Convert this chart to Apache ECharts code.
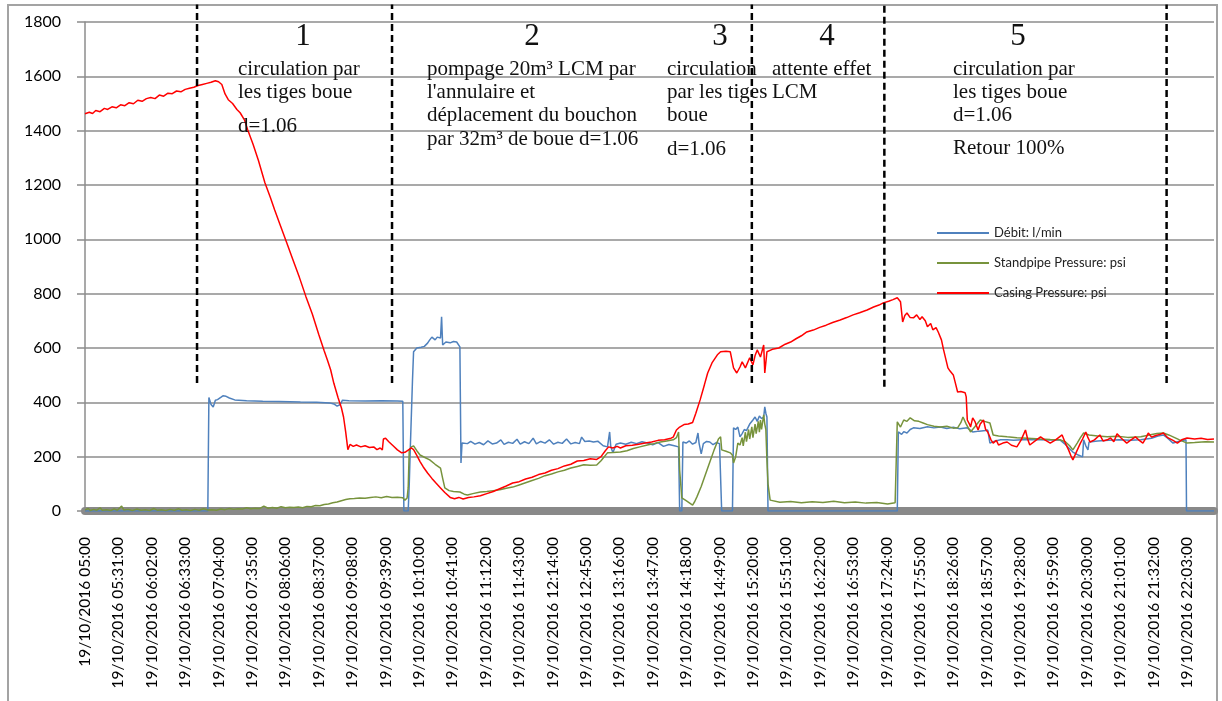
<!DOCTYPE html>
<html>
<head>
<meta charset="utf-8">
<script src="https://cdn.jsdelivr.net/npm/echarts@6.0.0/dist/echarts.min.js"></script>
<style>
  html, body { margin: 0; padding: 0; background: #fff; }
  #chart { width: 1222px; height: 701px; }
</style>
</head>
<body>
<div id="chart"></div>
<script>
// ── Data: time is minutes after 19/10/2016 05:00 ──────────────────────────
const tickLabels = [
  '19/10/2016 05:00', '19/10/2016 05:31:00', '19/10/2016 06:02:00', '19/10/2016 06:33:00',
  '19/10/2016 07:04:00', '19/10/2016 07:35:00', '19/10/2016 08:06:00', '19/10/2016 08:37:00',
  '19/10/2016 09:08:00', '19/10/2016 09:39:00', '19/10/2016 10:10:00', '19/10/2016 10:41:00',
  '19/10/2016 11:12:00', '19/10/2016 11:43:00', '19/10/2016 12:14:00', '19/10/2016 12:45:00',
  '19/10/2016 13:16:00', '19/10/2016 13:47:00', '19/10/2016 14:18:00', '19/10/2016 14:49:00',
  '19/10/2016 15:20:00', '19/10/2016 15:51:00', '19/10/2016 16:22:00', '19/10/2016 16:53:00',
  '19/10/2016 17:24:00', '19/10/2016 17:55:00', '19/10/2016 18:26:00', '19/10/2016 18:57:00',
  '19/10/2016 19:28:00', '19/10/2016 19:59:00', '19/10/2016 20:30:00', '19/10/2016 21:01:00',
  '19/10/2016 21:32:00', '19/10/2016 22:03:00'
]
const TICK_STEP = 31
const TIME_MAX = 1048

const seriesNames = ['Débit: l/min', 'Standpipe Pressure: psi', 'Casing Pressure: psi']

const debitData = [
  [0,0],[114,0],[115,418],[116,412],[117,392],[118,398],[119,383],[120,395],[121,408],[123,410],[126,418],[128,424],
  [131,422],[134,416],[139,409],[150,406],[165,404],[180,403],[200,401],[215,400],[227,398],[231,394],[234,386],
  [235,379],[237,392],[239,408],[245,406],[260,405],[275,406],[290,405],[295,404],[296,0],[300,0],[301,100],
  [302,236],[304,482],[305,586],[308,600],[312,603],[315,606],[318,618],[320,630],[322,640],[323,645],[325,630],
  [327,640],[330,637],[331,715],[332,611],[335,622],[339,619],[342,624],[345,622],[348,604],[349,177],[350,250],
  [351,254],[355,248],[358,256],[362,246],[366,252],[370,244],[374,258],[378,247],[382,250],[386,262],[389,245],
  [393,253],[397,249],[401,264],[404,246],[408,255],[412,248],[416,268],[419,247],[423,256],[427,250],[431,262],
  [435,246],[439,253],[443,249],[447,265],[451,247],[455,252],[459,248],[461,272],[464,256],[468,258],[472,254],
  [476,257],[481,240],[485,236],[487,291],[488,238],[490,214],[493,246],[497,250],[502,246],[507,253],[512,248],
  [517,255],[522,250],[527,244],[532,252],[537,238],[542,245],[547,240],[551,236],[552,0],[554,0],[555,254],
  [558,250],[561,258],[564,246],[567,252],[569,287],[570,250],[572,210],[574,248],[577,256],[580,254],[583,244],
  [586,252],[589,248],[590,250],[591,0],[601,0],[602,306],[604,300],[606,309],[608,273],[610,285],[612,300],
  [614,296],[617,320],[620,335],[622,346],[624,330],[626,350],[628,340],[630,346],[631,383],[632,360],[633,346],
  [634,0],[754,0],[755,291],[758,282],[760,292],[763,287],[766,300],[769,306],[775,304],[782,310],[788,306],
  [794,309],[800,304],[806,308],[812,303],[819,306],[824,291],[830,294],[836,296],[838,298],[840,250],[845,258],
  [850,262],[856,262],[862,260],[870,262],[878,263],[887,262],[895,261],[905,262],[910,245],[917,217],[922,206],
  [926,199],[927,262],[929,240],[931,225],[932,254],[940,258],[950,260],[960,262],[970,260],[980,262],[990,268],
  [996,276],[1001,280],[1005,268],[1010,250],[1015,256],[1022,262],[1022.5,0],[1048,0]
]

const standpipeData = [
  [0,4],[3,9],[5,2],[8,6],[11,3],[14,12],[16,3],[20,5],[24,2],[27,8],[30,3],[34,18],[36,4],[40,6],[44,2],[48,7],
  [52,3],[56,5],[60,2],[64,9],[67,3],[71,5],[75,2],[79,6],[83,3],[87,8],[90,3],[94,5],[98,2],[102,6],[106,3],
  [110,8],[114,4],[118,5],[122,3],[126,7],[130,5],[134,9],[138,6],[142,8],[146,7],[150,12],[154,8],[158,10],
  [162,9],[166,18],[170,10],[174,13],[178,10],[182,16],[186,12],[190,14],[194,13],[198,15],[202,12],[206,17],
  [210,16],[214,20],[218,19],[222,24],[226,26],[230,30],[234,33],[238,38],[242,42],[246,45],[250,46],[255,48],
  [260,47],[265,50],[270,52],[275,49],[280,53],[285,50],[290,51],[295,49],[297,40],[299,48],[300,85],[301,225],
  [303,236],[305,240],[308,222],[311,206],[315,198],[320,188],[325,172],[330,158],[332,120],[334,85],[338,75],
  [342,72],[348,70],[352,62],[355,59],[360,64],[367,70],[373,72],[379,75],[385,78],[391,84],[397,88],[403,96],
  [409,104],[415,112],[421,120],[427,130],[433,136],[439,144],[445,150],[451,158],[457,164],[463,170],[469,168],
  [475,169],[479,185],[482,200],[485,214],[490,215],[497,217],[503,222],[509,230],[515,236],[522,243],[528,248],
  [534,254],[540,258],[546,262],[549,270],[551,291],[552,150],[554,48],[558,38],[561,30],[564,22],[566,35],
  [568,52],[572,90],[576,135],[580,180],[584,225],[588,265],[590,273],[591,225],[595,220],[599,214],[601,205],
  [602,177],[604,200],[606,250],[608,243],[610,270],[611,240],[613,290],[614,255],[616,300],[617,265],[619,310],
  [620,270],[622,320],[623,285],[625,330],[626,290],[627,335],[628,300],[630,354],[631,320],[632,300],[633,188],
  [634,100],[636,40],[645,32],[655,35],[665,30],[675,34],[685,31],[695,36],[705,30],[715,33],[725,29],[735,31],
  [745,26],[752,30],[753,24],[754,328],[757,309],[760,335],[763,330],[766,343],[770,332],[774,330],[778,324],
  [782,318],[788,312],[794,309],[800,312],[806,305],[810,306],[813,325],[815,346],[818,320],[822,291],[826,310],
  [831,335],[835,330],[840,324],[843,280],[848,276],[856,273],[865,270],[875,268],[887,265],[896,263],[905,262],
  [910,255],[914,240],[917,225],[921,250],[924,270],[927,287],[932,280],[940,276],[949,273],[958,275],[968,271],
  [980,273],[988,280],[995,285],[1001,287],[1006,280],[1010,273],[1016,262],[1023,250],[1030,252],[1040,255],
  [1048,254]
]

const casingData = [
  [0,1462],[4,1468],[7,1463],[10,1474],[14,1470],[18,1482],[21,1478],[25,1488],[29,1484],[33,1495],[37,1492],
  [41,1503],[45,1499],[49,1512],[53,1508],[57,1518],[61,1522],[65,1518],[69,1531],[73,1527],[77,1538],[81,1536],
  [85,1546],[89,1543],[93,1552],[97,1556],[101,1560],[105,1566],[109,1570],[113,1574],[117,1578],[121,1584],
  [124,1580],[127,1570],[130,1535],[133,1514],[137,1500],[141,1478],[144,1466],[148,1440],[151,1403],[156,1350],
  [161,1290],[167,1208],[172,1155],[176,1109],[181,1055],[187,990],[193,925],[199,860],[205,790],[211,725],
  [217,650],[222,590],[225,556],[228,520],[231,470],[235,416],[238,380],[240,346],[242,290],[244,226],[246,245],
  [249,238],[252,243],[256,236],[260,240],[264,234],[268,236],[271,226],[274,232],[276,225],[277,265],[279,268],
  [282,255],[286,240],[290,225],[294,214],[297,216],[300,224],[303,232],[305,226],[308,205],[311,182],[314,162],
  [318,140],[322,120],[326,102],[330,85],[334,68],[339,50],[343,45],[347,50],[351,44],[356,50],[361,52],[367,56],
  [373,64],[379,72],[385,82],[391,92],[397,103],[403,108],[409,118],[415,124],[421,134],[427,140],[433,150],
  [439,156],[445,166],[451,172],[457,184],[463,186],[469,192],[475,190],[479,200],[483,222],[486,236],[490,232],
  [494,238],[497,232],[502,240],[508,242],[514,246],[520,250],[526,254],[532,260],[538,262],[544,268],[546,272],
  [549,298],[552,309],[556,318],[560,320],[564,326],[567,360],[571,409],[575,465],[578,508],[582,545],[587,575],
  [590,586],[595,588],[599,586],[602,527],[605,508],[608,530],[610,549],[613,527],[617,564],[620,538],[622,572],
  [624,593],[627,567],[630,611],[631,508],[633,586],[638,595],[644,600],[650,614],[655,622],[660,634],[665,645],
  [670,659],[676,666],[682,676],[688,684],[694,694],[701,703],[707,712],[713,722],[719,730],[726,740],[732,751],
  [737,758],[741,766],[746,772],[750,778],[754,785],[757,770],[759,696],[761,720],[763,729],[766,712],[769,711],
  [772,722],[775,705],[777,715],[780,700],[782,678],[785,690],[787,667],[790,675],[792,659],[795,630],[797,593],
  [799,560],[801,527],[803,515],[806,501],[808,470],[810,438],[813,440],[817,435],[818,420],[819,335],[821,320],
  [822,309],[824,343],[826,330],[829,298],[831,320],[834,335],[836,300],[838,291],[841,262],[843,250],[846,260],
  [848,243],[852,250],[856,254],[860,242],[865,236],[869,262],[873,298],[875,265],[877,243],[882,258],[887,273],
  [891,262],[896,250],[901,262],[907,280],[910,250],[913,225],[915,205],[917,188],[920,215],[924,250],[926,265],
  [929,291],[931,270],[933,254],[937,262],[942,280],[945,258],[949,262],[952,269],[955,255],[958,284],[962,268],
  [967,250],[971,262],[975,273],[978,262],[982,250],[985,270],[987,287],[990,272],[994,278],[998,282],[1001,287],
  [1005,270],[1010,260],[1014,250],[1018,262],[1023,269],[1030,265],[1036,268],[1042,263],[1048,265]
]

// phase boundaries (minutes) and the span of each dashed line (value units)
const dividerTimes = [104, 285, 619, 742, 1004]
const dividerBottoms = [471, 471, 471, 457, 471]
const DIVIDER_TOP = 1864

const phaseLabels = ['1', '2', '3', '4', '5']
const phaseNotes = [
  ['circulation par', 'les tiges boue', 'd=1.06'],
  ['pompage 20m³ LCM par', "l'annulaire et", 'déplacement du bouchon', 'par 32m³ de boue d=1.06'],
  ['circulation', 'par les tiges', 'boue', 'd=1.06'],
  ['attente effet', 'LCM'],
  ['circulation par', 'les tiges boue', 'd=1.06', 'Retour 100%']
]

// ── Layout of the annotation text (pixels) ────────────────────────────────
const phaseNumX = [303, 532, 720, 827, 1018]
const noteX = [238, 427, 667, 772, 953]
const noteBaselines = [[76, 99, 133], [76, 99, 122, 146], [76, 99, 122, 156], [76, 99], [76, 99, 122, 155]]

const COLORS = ['#4F81BD', '#77933C', '#FF0000']
const GRID_GREY = '#8c8c8c'
const SERIF = '"Liberation Serif", "Times New Roman", serif'

function serifText(x, baseline, text, size, align) {
  return {
    type: 'text',
    x: x,
    y: baseline - Math.round(size * 0.34),
    silent: true,
    z: 100,
    style: {
      text: text,
      font: size + 'px ' + SERIF,
      fill: '#111',
      align: align,
      verticalAlign: 'middle',
      textAlign: align,
      textVerticalAlign: 'middle'
    }
  }
}

function buildGraphics() {
  const items = [{
    type: 'rect',
    silent: true,
    z: 0,
    shape: { x: 8, y: 5, width: 1209, height: 720 },
    style: { fill: 'none', stroke: '#a3a3a3', lineWidth: 2 }
  }]
  phaseLabels.forEach((label, i) => {
    items.push(serifText(phaseNumX[i], 48, label, 31, 'center'))
    phaseNotes[i].forEach((line, j) => {
      items.push(serifText(noteX[i], noteBaselines[i][j], line, 21, 'left'))
    })
  })
  return items
}

function dataSeries(name, data, color) {
  return {
    name: name,
    type: 'line',
    data: data,
    showSymbol: false,
    symbol: 'none',
    silent: true,
    color: color,
    itemStyle: { color: color },
    lineStyle: { color: color, width: 1.5 }
  }
}

function dividerSeries() {
  return dividerTimes.map((t, i) => ({
    name: 'phase-' + (i + 1),
    type: 'line',
    data: [[t, dividerBottoms[i]], [t, DIVIDER_TOP]],
    showSymbol: false,
    symbol: 'none',
    silent: true,
    clip: false,
    z: 5,
    lineStyle: { color: '#000', width: 2.5, type: [7, 4] }
  }))
}

const chart = echarts.init(document.getElementById('chart'))

chart.setOption({
  animation: false,
  textStyle: { fontFamily: 'Lato' },
  grid: { left: 85, right: 8, top: 22, bottom: 190 },
  legend: {
    orient: 'vertical',
    left: 937,
    top: 226,
    padding: 0,
    itemWidth: 52,
    itemHeight: 2,
    itemGap: 16,
    icon: 'rect',
    data: seriesNames,
    textStyle: { fontFamily: 'Lato', fontSize: 13, color: '#222', lineHeight: 14 }
  },
  xAxis: {
    type: 'value',
    min: 0,
    max: TIME_MAX,
    interval: TICK_STEP,
    offset: 4,
    axisLine: { lineStyle: { color: '#898989', width: 8 } },
    axisTick: { show: false },
    splitLine: { show: false },
    axisLabel: {
      rotate: 90,
      margin: 22,
      fontSize: 15.5,
      color: '#000',
      showMaxLabel: false,
      formatter: (v) => {
        const i = Math.round(v / TICK_STEP)
        return (Math.abs(v - i * TICK_STEP) < 0.01 && tickLabels[i]) ? tickLabels[i] : ''
      }
    }
  },
  yAxis: {
    type: 'value',
    min: 0,
    max: 1800,
    interval: 200,
    axisLine: { show: true, lineStyle: { color: GRID_GREY, width: 1.5 } },
    axisTick: { show: true, length: 8, lineStyle: { color: GRID_GREY, width: 1.5 } },
    splitLine: { lineStyle: { color: GRID_GREY, width: 1.5 } },
    axisLabel: {
      fontSize: 16,
      color: '#000',
      margin: 24,
      padding: [0, 0, 8, 0],
      formatter: (v) => String(v)
    }
  },
  graphic: buildGraphics(),
  series: [
    dataSeries(seriesNames[0], debitData, COLORS[0]),
    dataSeries(seriesNames[1], standpipeData, COLORS[1]),
    dataSeries(seriesNames[2], casingData, COLORS[2]),
    ...dividerSeries()
  ]
})
</script>
</body>
</html>
